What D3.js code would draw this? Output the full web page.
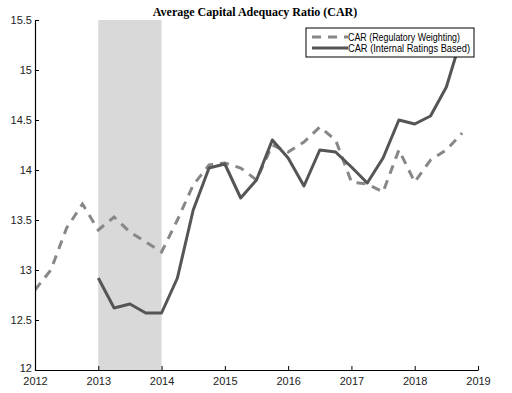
<!DOCTYPE html>
<html><head><meta charset="utf-8">
<script src="https://cdn.jsdelivr.net/npm/d3@7"></script>
<style>body{margin:0;background:#fff}svg{display:block}</style>
</head><body><svg id="c" width="512" height="393"></svg>
<script>
const title = "Average Capital Adequacy Ratio (CAR)";
const seriesNames = ["CAR (Regulatory Weighting)", "CAR (Internal Ratings Based)"];
const regDates = [2012,2012.25,2012.5,2012.75,2013,2013.25,2013.5,2013.75,2014,2014.25,2014.5,2014.75,2015,2015.25,2015.5,2015.75,2016,2016.25,2016.5,2016.75,2017,2017.25,2017.5,2017.75,2018,2018.25,2018.5,2018.75];
const regValues = [12.8,13.0,13.42,13.66,13.4,13.53,13.38,13.28,13.18,13.5,13.85,14.05,14.07,14.02,13.9,14.25,14.18,14.28,14.43,14.3,13.88,13.86,13.78,14.2,13.88,14.1,14.2,14.37];
const irbDates = [2013,2013.25,2013.5,2013.75,2014,2014.25,2014.5,2014.75,2015,2015.25,2015.5,2015.75,2016,2016.25,2016.5,2016.75,2017,2017.25,2017.5,2017.75,2018,2018.25,2018.5,2018.75];
const irbValues = [12.92,12.62,12.66,12.57,12.57,12.92,13.6,14.02,14.06,13.72,13.9,14.3,14.12,13.84,14.2,14.18,14.03,13.87,14.12,14.5,14.46,14.54,14.83,15.35];
const shadeRange = [2013, 2014];
const xTicks = [2012,2013,2014,2015,2016,2017,2018,2019];
const yTicks = [12,12.5,13,13.5,14,14.5,15,15.5];

const svg = d3.select("#c");
const x = d3.scaleLinear().domain([2012, 2019]).range([35, 478]);
const y = d3.scaleLinear().domain([12, 15.5]).range([370, 20]);

svg.append("clipPath").attr("id","clip").append("rect")
  .attr("x", x(2012)).attr("y", y(15.5)).attr("width", x(2019)-x(2012)).attr("height", y(12)-y(15.5));

svg.append("rect").attr("x", x(shadeRange[0])).attr("y", y(15.5))
  .attr("width", x(shadeRange[1]) - x(shadeRange[0])).attr("height", y(12) - y(15.5))
  .attr("fill", "#d9d9d9");

const line = d3.line().x(d => x(d[0])).y(d => y(d[1]));
const g = svg.append("g").attr("clip-path","url(#clip)");
g.append("path").datum(regDates.map((d,i)=>[d, regValues[i]]))
  .attr("d", line).attr("fill","none").attr("stroke","#878787").attr("stroke-width",3)
  .attr("stroke-dasharray","9,7");
g.append("path").datum(irbDates.map((d,i)=>[d, irbValues[i]]))
  .attr("d", line).attr("fill","none").attr("stroke","#555555").attr("stroke-width",3)
  .attr("stroke-linejoin","round");

const xAxis = svg.append("g").attr("transform", `translate(0,${y(12)})`)
  .call(d3.axisBottom(x).tickValues(xTicks).tickFormat(d3.format("d")).tickSizeInner(-4).tickSizeOuter(0).tickPadding(7));
const yAxis = svg.append("g").attr("transform", `translate(${x(2012)},0)`)
  .call(d3.axisLeft(y).tickValues(yTicks).tickFormat(d => d).tickSizeInner(-4).tickSizeOuter(0).tickPadding(3));
[xAxis, yAxis].forEach(a => {
  a.select(".domain").attr("stroke","#000").attr("stroke-width",1.2);
  a.selectAll(".tick line").attr("stroke","#000");
  a.selectAll("text").attr("font-family","Liberation Sans, Arial, sans-serif").attr("font-size",11).attr("fill","#222");
});
yAxis.selectAll(".tick text").filter(d => d === 12).attr("dy","0.1em");

svg.append("text").attr("x", 255).attr("y", 16).attr("text-anchor","middle")
  .attr("font-family","Liberation Serif, Times New Roman, serif").attr("font-weight","bold")
  .attr("font-size", 12).attr("fill","#000").text(title);

const lg = svg.append("g");
lg.append("rect").attr("x",306).attr("y",28).attr("width",168).attr("height",29)
  .attr("fill","#fff").attr("stroke","#000").attr("stroke-width",1);
const styles = [{c:"#878787", dash:"9,7"}, {c:"#555555", dash:null}];
const widths = [112, 122];
seriesNames.forEach((n,i) => {
  const yy = 37 + i*11;
  lg.append("line").attr("x1",312).attr("x2",348).attr("y1",yy).attr("y2",yy)
    .attr("stroke", styles[i].c).attr("stroke-width",3).attr("stroke-dasharray", styles[i].dash);
  lg.append("text").attr("x",348).attr("y",yy+3.5).attr("font-family","Liberation Sans, Arial, sans-serif")
    .attr("font-size",10).attr("fill","#000")
    .attr("textLength", widths[i]).attr("lengthAdjust","spacingAndGlyphs").text(n);
});
</script></body></html>
